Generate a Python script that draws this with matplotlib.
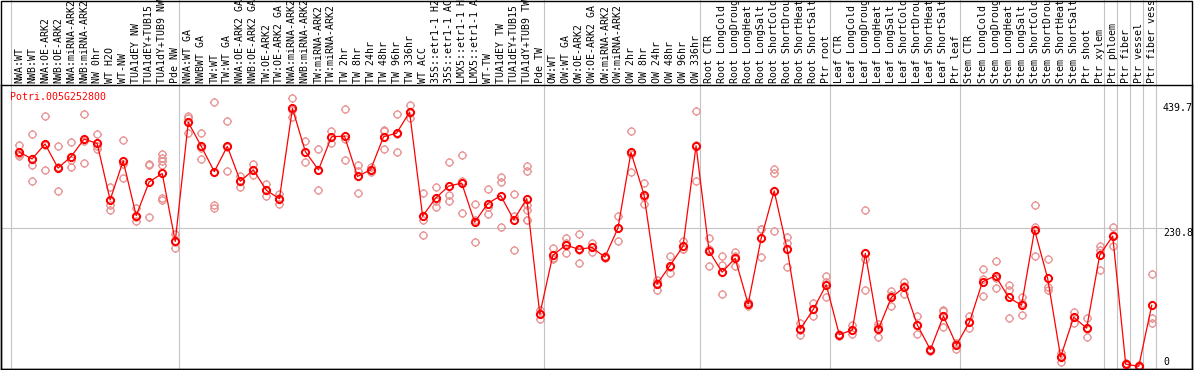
import numpy as np
import matplotlib
matplotlib.use("Agg")
import matplotlib.pyplot as plt
from matplotlib.path import Path
from matplotlib.patches import Rectangle

gene = "Potri.005G252800"

categories = [
    "NWA:WT", "NWB:WT", "NWA:OE-ARK2", "NWB:OE-ARK2", "NWA:miRNA-ARK2", "NWB:miRNA-ARK2",
    "NW 0hr", "WT H2O", "WT-NW", "TUA1dEY NW", "TUA1dEY+TUB15 NW", "TUA1dY+TUB9 NW", "Pde NW",
    "NWA:WT GA", "NWBWT GA", "TW:WT", "TW:WT GA", "NWA:OE-ARK2 GA", "NWB:OE-ARK2 GA",
    "TW:OE-ARK2", "TW:OE-ARK2 GA", "NWA:miRNA-ARK2 GA", "NWB:miRNA-ARK2 GA", "TW:miRNA-ARK2",
    "TW:miRNA-ARK2 GA", "TW 2hr", "TW 8hr", "TW 24hr", "TW 48hr", "TW 96hr", "TW 336hr",
    "WT ACC", "35S::etr1-1 H2O", "35S::etr1-1 ACC", "LMX5::etr1-1 H2O", "LMX5::etr1-1 ACC",
    "WT-TW", "TUA1dEY TW", "TUA1dEY+TUB15 TW", "TUA1dY+TUB9 TW", "Pde TW",
    "OW:WT", "OW:WT GA", "OW:OE-ARK2", "OW:OE-ARK2 GA", "OW:miRNA-ARK2", "OW:miRNA-ARK2 GA",
    "OW 2hr", "OW 8hr", "OW 24hr", "OW 48hr", "OW 96hr", "OW 336hr",
    "Root CTR", "Root LongCold", "Root LongDrought", "Root LongHeat", "Root LongSalt",
    "Root ShortCold", "Root ShortDrought", "Root ShortHeat", "Root ShortSalt", "Ptr root",
    "Leaf CTR", "Leaf LongCold", "Leaf LongDrought", "Leaf LongHeat", "Leaf LongSalt",
    "Leaf ShortCold", "Leaf ShortDrought", "Leaf ShortHeat", "Leaf ShortSalt", "Ptr leaf",
    "Stem CTR", "Stem LongCold", "Stem LongDrought", "Stem LongHeat", "Stem LongSalt",
    "Stem ShortCold", "Stem ShortDrought", "Stem ShortHeat", "Stem ShortSalt", "Ptr shoot",
    "Ptr xylem", "Ptr phloem", "Ptr fiber", "Ptr vessel", "Ptr fiber vessel",
]

group_sizes = [13, 28, 12, 10, 10, 11, 1, 1, 1, 1]

means = [
    357, 345, 370, 330, 349, 378, 371, 277, 342, 251, 307, 321, 208,
    406, 366, 324, 366, 308, 327, 293, 279, 429, 357, 327, 382, 383, 316, 327,
    382, 388, 423, 250, 280, 300, 305, 240, 271, 284, 244, 279, 87,
    185, 202, 195, 198, 182, 230, 356, 286, 137, 168, 200, 367,
    192, 157, 180, 104, 213, 292, 195, 62, 95, 136,
    53, 61, 188, 62, 115, 132, 69, 28, 84, 36,
    74, 141, 151, 115, 102, 227, 147, 16, 82, 64, 185,
    217, 4, 0.5, 102,
]

replicates = [
    [368, 353, 350], [386, 335, 309], [416, 326, 368], [367, 292, 331], [373, 343, 331],
    [420, 339, 375], [386, 367, 361], [299, 269, 260], [376, 313, 337], [263, 242, 249],
    [337, 249, 335], [353, 346, 341, 335, 280, 277], [220, 197, 207],
    [416, 389, 413], [389, 345, 364], [439, 269, 264], [408, 325, 365], [317, 299, 308],
    [337, 318, 326], [303, 283, 293], [287, 270, 280], [446, 415, 426], [375, 340, 356],
    [361, 294, 326], [392, 372, 382], [428, 343, 378], [335, 288, 325], [331, 323, 327],
    [392, 361, 393], [420, 357, 387], [435, 413, 421], [288, 244, 219], [298, 266, 276],
    [340, 285, 275], [352, 255, 308], [270, 207, 243], [295, 253, 265], [315, 306, 232],
    [287, 250, 194], [333, 325, 269, 260, 244, 243], [94, 79, 88],
    [197, 180, 178], [213, 188, 205], [220, 172, 193], [205, 191, 198], [184, 180, 182],
    [251, 209, 230], [391, 323, 354], [305, 271, 282], [144, 128, 139], [183, 155, 166],
    [209, 195, 196], [424, 308, 369],
    [213, 167, 196], [183, 169, 121], [190, 167, 183], [108, 100, 104], [228, 182, 229],
    [328, 322, 225], [216, 206, 166], [73, 53, 60], [106, 84, 95], [151, 116, 141],
    [53, 55, 51], [69, 54, 60], [261, 127, 178], [66, 50, 70], [126, 100, 119],
    [141, 121, 134], [84, 54, 69], [30, 26, 28], [94, 66, 92], [40, 30, 38],
    [84, 64, 74], [162, 145, 117], [176, 130, 147], [136, 127, 81], [115, 85, 106],
    [268, 232, 184], [178, 133, 127], [22, 8, 18], [91, 72, 83], [80, 50, 62],
    [200, 161, 194],
    [232, 200, 219], [6, 2, 4], [2, 0, 0], [154, 80, 72],
]

ytick_vals = [439.7, 230.8, 0]
ytick_labels = ["439.7", "230.8", "0"]

W, H = 1194, 370
plt.rcParams['font.family'] = ['DejaVu Sans Mono']
plt.rcParams['font.size'] = 7.1

fig = plt.figure(figsize=(W / 100, H / 100), dpi=100)
ax = fig.add_axes([1 / W, 1 / H, 1191 / W, 284 / H])
ax.set_xlim(-1.382, 90.09)
ax.set_ylim(-3.99, 468.0)
ax.set_xticks([])
ax.set_yticks([])
for s in ax.spines.values():
    s.set_linewidth(1.0)

# outer frame around labels + plot
fig.add_artist(Rectangle((1 / W, 1 / H), 1191 / W, 368.3 / H, transform=fig.transFigure,
                         fill=False, lw=1.0, ec='black'))

# marker: open circle with 4 small ticks
r = 0.77
circ = Path(Path.unit_circle().vertices * r, Path.unit_circle().codes)
ticks = Path([(0, r), (0, 1), (0, -r), (0, -1), (r, 0), (1, 0), (-r, 0), (-1, 0)],
             [Path.MOVETO, Path.LINETO] * 4)
mk = Path.make_compound_path(circ, ticks)

grid_c = '#c4c4c4'
ends = np.cumsum(group_sizes) - 1
grid_x = [-0.6] + [e + 0.3 for e in ends]
for gx in grid_x:
    ax.axvline(gx, ymin=0, ymax=1 + 85 / 284, color=grid_c, lw=0.8, clip_on=False, zorder=0)
ax.axhline(230.8, xmin=0, xmax=1162 / 1191, color=grid_c, lw=0.8, zorder=0)

x = np.arange(len(categories))
rx = np.concatenate([[i] * len(rv) for i, rv in enumerate(replicates)])
ry = np.concatenate(replicates)
ax.plot(rx, ry, ls='none', marker=mk, ms=6.5, mfc='none', mec='#e89494', mew=0.95, zorder=2)
ax.plot(x, means, color='red', lw=0.9, marker=mk, ms=6.6, mfc='none', mec='red',
        mew=1.4, zorder=3)

for i, lab in enumerate(categories):
    ax.annotate(lab, xy=(i, 1), xycoords=('data', 'axes fraction'), xytext=(0, 2),
                textcoords='offset pixels', rotation=90, ha='center', va='bottom')

ax.annotate(gene, xy=(0, 1), xycoords='axes fraction', xytext=(9, -15),
            textcoords='offset pixels', color='red', ha='left', va='baseline')

offsets = [-8.7, -8.6, 1.6]
for v, lab, dy in zip(ytick_vals, ytick_labels, offsets):
    ax.annotate(lab, xy=(1162 / 1191, v), xycoords=('axes fraction', 'data'), xytext=(0, dy),
                textcoords='offset pixels', ha='left', va='baseline')

fig.savefig('out.png', dpi=100)
